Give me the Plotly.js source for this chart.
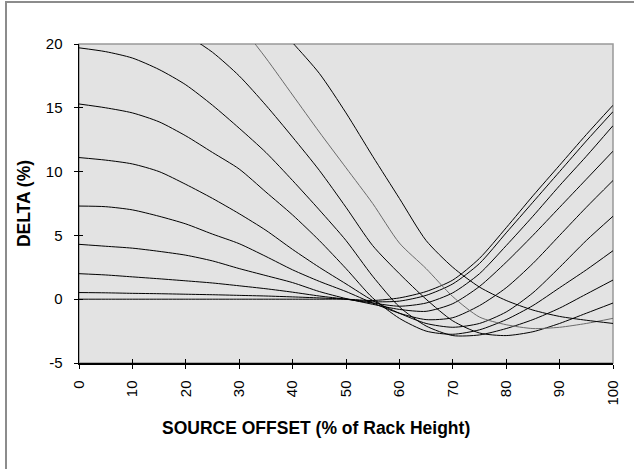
<!DOCTYPE html>
<html>
<head>
<meta charset="utf-8">
<script src="https://cdn.plot.ly/plotly-3.0.1.min.js"></script>
<style>
  html, body { margin: 0; padding: 0; background: #fff; overflow: hidden; }
  #wrap { position: relative; width: 634px; height: 469px; }
  #chart { position: absolute; left: 0; top: 0; width: 634px; height: 469px; }
  #frame { position: absolute; left: 5px; top: 1px; width: 800px; height: 800px;
           border-left: 2px solid #8c8c8c; border-top: 2px solid #8c8c8c; pointer-events: none; }
</style>
</head>
<body>
<div id="wrap"><div id="chart"></div><div id="frame"></div></div>
<script>
// Source offset (% of rack height)
const xOffset = [0, 5, 10, 15, 20, 25, 30, 35, 40, 45, 50, 55, 60, 65, 70, 75, 80, 85, 90, 95, 100];

// Delta (%) curves (null = off the chart / not drawn)
const curveA = [19.7, 19.4, 18.9, 18.0, 16.8, 15.2, 13.4, 11.5, 9.3, 7.0, 4.6, 1.8, -0.6, -2.1, -2.85, -2.8, -2.3, -1.6, -0.7, 0.4, 1.5];
const curveB = [15.3, 15.0, 14.6, 13.9, 12.8, 11.5, 10.2, 8.4, 6.6, 4.6, 2.4, 0.1, -1.5, -2.5, -2.75, -2.4, -1.6, -0.5, 0.9, 2.3, 3.8];
const curveC = [11.1, 10.9, 10.6, 10.0, 9.0, 7.9, 6.7, 5.4, 3.9, 2.5, 1.2, -0.1, -1.1, -1.9, -2.2, -1.9, -1.0, 0.5, 2.5, 4.6, 6.5];
const curveD = [7.3, 7.25, 7.0, 6.5, 5.9, 5.1, 4.35, 3.35, 2.3, 1.4, 0.6, -0.3, -1.1, -1.6, -1.45, -0.5, 0.9, 2.8, 5.0, 7.2, 9.3];
const curveE = [4.3, 4.15, 4.0, 3.75, 3.45, 3.0, 2.4, 1.85, 1.3, 0.6, 0.05, -0.4, -0.8, -0.95, -0.35, 1.0, 2.9, 5.0, 7.2, 9.4, 11.6];
const curveF = [2.0, 1.9, 1.75, 1.6, 1.44, 1.27, 1.05, 0.82, 0.55, 0.25, 0.0, -0.3, -0.55, -0.3, 0.5, 2.0, 4.2, 6.5, 8.9, 11.2, 13.6];
const curveG = [0.52, 0.5, 0.46, 0.43, 0.39, 0.35, 0.3, 0.25, 0.18, 0.1, 0.0, -0.2, -0.15, 0.3, 1.2, 2.8, 5.2, 7.6, 10.0, 12.4, 14.7];
const curveH = [0, 0, 0, 0, 0, 0, 0, 0, 0, 0, 0, -0.1, 0.1, 0.6, 1.5, 3.2, 5.6, 8.1, 10.5, 12.9, 15.2];
const curveI = [null, null, null, null, 20.75, 19.35, 17.5, 15.2, 12.7, 10.1, 7.2, 4.2, 2.0, 0.0, -1.7, -2.65, -2.85, -2.55, -1.9, -1.1, -0.3];
const curveJ = [null, null, null, null, null, null, 21.6, 18.9, 16.0, 13.1, 10.3, 7.5, 4.4, 2.4, 0.2, -1.4, -2.0, -2.3, -2.2, -1.9, -1.5];
const curveK = [null, null, null, null, null, null, null, 22.4, 20.1, 17.7, 14.6, 11.2, 7.9, 4.6, 2.5, 0.95, -0.1, -0.85, -1.35, -1.65, -1.9];

const xTicks = [0, 10, 20, 30, 40, 50, 60, 70, 80, 90, 100];
const yTicks = [-5, 0, 5, 10, 15, 20];

const curves = [curveH, curveG, curveF, curveE, curveD, curveC, curveB, curveA, curveI, curveJ, curveK];
const colors = ['#000', '#000', '#000', '#000', '#000', '#000', '#000', '#000', '#000', '#6a6a6a', '#000'];

const traces = curves.map((c, i) => ({
  x: xOffset, y: c, type: 'scatter', mode: 'lines',
  line: { color: colors[i], width: 1, shape: 'spline', smoothing: 0.7 },
  hoverinfo: 'skip', showlegend: false
}));
// helper trace on secondary axes (for inner half of cross tick marks)
traces.push({ x: [null], y: [null], xaxis: 'x2', yaxis: 'y2', showlegend: false, hoverinfo: 'skip' });

const font = 'Liberation Sans, Arial, sans-serif';
const layout = {
  width: 634, height: 469,
  margin: { l: 79, r: 21, t: 44, b: 106, pad: 0 },
  paper_bgcolor: '#ffffff', plot_bgcolor: '#e3e3e3',
  showlegend: false,
  font: { family: font, color: '#000', size: 15 },
  xaxis: {
    range: [0, 100], tickvals: xTicks, ticktext: xTicks.map(String),
    ticks: 'outside', ticklen: 4, tickwidth: 1, tickcolor: '#000',
    tickangle: -90, ticklabelstandoff: 6,
    showline: true, linecolor: '#000', linewidth: 1.5,
    showgrid: false, zeroline: false, automargin: false,
    tickfont: { family: font, size: 15, color: '#000' }
  },
  yaxis: {
    range: [-5, 20], tickvals: yTicks, ticktext: yTicks.map(String),
    ticks: 'outside', ticklen: 4, tickwidth: 1, tickcolor: '#000',
    ticklabelstandoff: 8,
    showline: true, linecolor: '#000', linewidth: 1.5,
    showgrid: false, zeroline: false, automargin: false,
    tickfont: { family: font, size: 15, color: '#000' },
    title: { text: 'DELTA (%)', font: { family: font, size: 17.5, color: '#000', weight: 'bold' }, standoff: 10 }
  },
  xaxis2: {
    overlaying: 'x', range: [0, 100], tickvals: xTicks, ticks: 'inside', ticklen: 4,
    tickcolor: '#000', showticklabels: false, showgrid: false, zeroline: false, showline: false, side: 'bottom'
  },
  yaxis2: {
    overlaying: 'y', range: [-5, 20], tickvals: yTicks, ticks: 'inside', ticklen: 4,
    tickcolor: '#000', showticklabels: false, showgrid: false, zeroline: false, showline: false, side: 'left'
  },
  annotations: [{
    text: '<b>SOURCE OFFSET (% of Rack Height)</b>', xref: 'paper', yref: 'paper',
    x: 0.444, y: -0.204, xanchor: 'center', yanchor: 'middle', showarrow: false,
    font: { family: font, size: 17.5, color: '#000' }
  }],
  shapes: [{
    type: 'rect', xref: 'paper', yref: 'paper', x0: 0, x1: 1, y0: 0, y1: 1,
    line: { color: '#999999', width: 1.5 }, layer: 'below'
  }]
};

Plotly.newPlot('chart', traces, layout, { staticPlot: true, displayModeBar: false });
</script>
</body>
</html>
